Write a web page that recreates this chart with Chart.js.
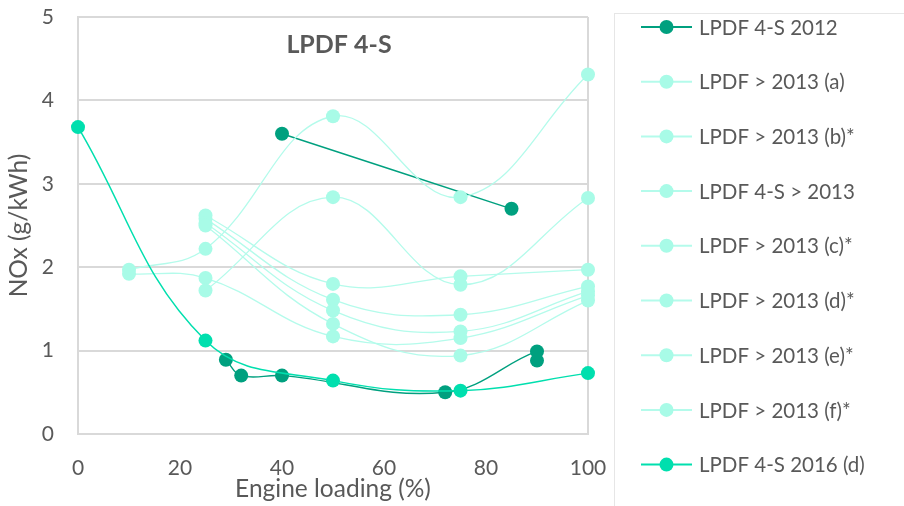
<!DOCTYPE html>
<html>
<head>
<meta charset="utf-8">
<script src="https://cdn.jsdelivr.net/npm/chart.js@4/dist/chart.umd.min.js"></script>
<style>
  html, body { margin: 0; padding: 0; background: #ffffff; }
  #wrap { width: 904px; height: 506px; position: relative; }
</style>
</head>
<body>
<div id="wrap"><canvas id="chart" width="904" height="506"></canvas></div>
<script>
// NOx emissions vs engine loading, LPDF 4-S engines
const chartTitle = 'LPDF 4-S';
const xTitle = 'Engine loading (%)';
const yTitle = 'NOx (g/kWh)';
const xTicks = [0, 20, 40, 60, 80, 100];
const yTicks = [0, 1, 2, 3, 4, 5];

const seriesNames = [
  'LPDF 4-S 2012',
  'LPDF > 2013 (a)',
  'LPDF > 2013 (b)*',
  'LPDF 4-S > 2013',
  'LPDF > 2013 (c)*',
  'LPDF > 2013 (d)*',
  'LPDF > 2013 (e)*',
  'LPDF > 2013 (f)*',
  'LPDF 4-S 2016 (d)'
];

// engine load (%) and NOx (g/kWh) per series; null marks a break in the line
const load2012 = [40, 85, null, 29, 32, 40, 72, 90, 90];
const nox2012  = [3.6, 2.7, null, 0.89, 0.70, 0.70, 0.50, 0.99, 0.88];

const loadA = [10, 25, 50, 75, 100];
const noxA  = [1.97, 2.22, 3.81, 2.84, 4.31];
const loadB = [10, 25, 50, 75, 100];
const noxB  = [1.92, 1.87, 1.17, 1.15, 1.66];
const loadC = [25, 50, 75, 100];
const noxC  = [1.72, 2.84, 1.79, 2.83];
const loadD = [25, 50, 75, 100];
const noxD  = [2.62, 1.80, 1.89, 1.97];
const loadE = [25, 50, 75, 100];
const noxE  = [2.58, 1.61, 1.43, 1.77];
const loadF = [25, 50, 75, 100];
const noxF  = [2.53, 1.48, 1.23, 1.71];
const loadG = [25, 50, 75, 100];
const noxG  = [2.50, 1.32, 0.94, 1.60];

const load2016 = [0, 25, 50, 75, 100];
const nox2016  = [3.68, 1.12, 0.64, 0.52, 0.73];

const DARK = '#00a07f';
const LIGHT_DOT = '#a8fbe7';
const LIGHT_LINE = '#b4fbeb';
const BRIGHT = '#00dfae';
const TEXT = '#595959';
const GRID = '#d9d9d9';
const FONT = 'Lato, "Open Sans", sans-serif';

function pts(xs, ys) {
  return xs.map((x, i) => ({ x: x, y: ys[i] }));
}

function makeSet(name, xs, ys, dot, line, width, order) {
  return {
    label: name,
    data: pts(xs, ys),
    showLine: true,
    borderColor: line,
    backgroundColor: dot,
    borderWidth: width,
    pointRadius: 7,
    pointHoverRadius: 7,
    pointBackgroundColor: dot,
    pointBorderColor: dot,
    pointBorderWidth: 0,
    tension: 0.4,
    spanGaps: false,
    clip: false,
    order: order
  };
}

const datasets = [
  makeSet(seriesNames[0], load2012, nox2012, DARK, DARK, 1.4, 9),
  makeSet(seriesNames[1], loadA, noxA, LIGHT_DOT, LIGHT_LINE, 1.3, 8),
  makeSet(seriesNames[2], loadB, noxB, LIGHT_DOT, LIGHT_LINE, 1.3, 7),
  makeSet(seriesNames[3], loadC, noxC, LIGHT_DOT, LIGHT_LINE, 1.3, 6),
  makeSet(seriesNames[4], loadD, noxD, LIGHT_DOT, LIGHT_LINE, 1.3, 5),
  makeSet(seriesNames[5], loadE, noxE, LIGHT_DOT, LIGHT_LINE, 1.3, 4),
  makeSet(seriesNames[6], loadF, noxF, LIGHT_DOT, LIGHT_LINE, 1.3, 3),
  makeSet(seriesNames[7], loadG, noxG, LIGHT_DOT, LIGHT_LINE, 1.3, 2),
  makeSet(seriesNames[8], load2016, nox2016, BRIGHT, BRIGHT, 1.5, 1)
];

// chart title inside the plot and a boxed legend on the right
const decorations = {
  id: 'decorations',
  afterDraw(chart) {
    const ctx = chart.ctx;
    const area = chart.chartArea;
    ctx.save();
    ctx.fillStyle = TEXT;
    ctx.font = 'bold 25px ' + FONT;
    ctx.textAlign = 'center';
    ctx.textBaseline = 'middle';
    ctx.fillText(chartTitle, (area.left + area.right) / 2 + 6, 45);

    ctx.strokeStyle = '#e6e6e6';
    ctx.lineWidth = 1;
    ctx.strokeRect(614.5, 13.5, 400, 600);

    ctx.font = '20.5px ' + FONT;
    ctx.textAlign = 'left';
    chart.data.datasets.forEach((ds, i) => {
      const y = 27 + i * 54.7;
      ctx.strokeStyle = ds.borderColor;
      ctx.lineWidth = 2;
      ctx.beginPath();
      ctx.moveTo(641, y);
      ctx.lineTo(692, y);
      ctx.stroke();
      ctx.fillStyle = ds.pointBackgroundColor;
      ctx.beginPath();
      ctx.arc(666.5, y, 7, 0, Math.PI * 2);
      ctx.fill();
      ctx.fillStyle = TEXT;
      ctx.fillText(ds.label, 699, y + 1);
    });
    ctx.restore();
  }
};

new Chart(document.getElementById('chart'), {
  type: 'scatter',
  data: { datasets: datasets },
  plugins: [decorations],
  options: {
    responsive: false,
    animation: false,
    events: [],
    layout: { padding: { top: 17, right: 316, left: 0, bottom: 0 } },
    plugins: {
      legend: { display: false },
      tooltip: { enabled: false },
      title: { display: false }
    },
    scales: {
      x: {
        type: 'linear',
        min: xTicks[0],
        max: xTicks[xTicks.length - 1],
        afterFit(scale) {
          scale.height = 72;
          scale.paddingLeft = 0;
          scale.paddingRight = 0;
        },
        afterBuildTicks(scale) { scale.ticks = xTicks.map(v => ({ value: v })); },
        grid: {
          drawTicks: false,
          lineWidth: 2,
          color: (c) => (c.tick && c.tick.value === 100) ? GRID : 'rgba(0,0,0,0)'
        },
        border: { display: true, color: GRID, width: 2 },
        ticks: {
          padding: 22,
          color: TEXT,
          font: { family: FONT, size: 21 }
        },
        title: {
          display: true,
          text: xTitle,
          color: TEXT,
          font: { family: FONT, size: 24.5 },
          padding: { top: 0, bottom: 2 }
        }
      },
      y: {
        type: 'linear',
        min: yTicks[0],
        max: yTicks[yTicks.length - 1],
        afterFit(scale) {
          scale.width = 78;
          scale.paddingTop = 0;
          scale.paddingBottom = 0;
        },
        afterBuildTicks(scale) { scale.ticks = yTicks.map(v => ({ value: v })); },
        grid: { drawTicks: false, lineWidth: 2, color: GRID },
        border: { display: true, color: GRID, width: 2 },
        ticks: {
          padding: 24,
          color: TEXT,
          font: { family: FONT, size: 21 }
        },
        title: {
          display: true,
          text: yTitle,
          color: TEXT,
          font: { family: FONT, size: 24.5 },
          padding: { top: 4, bottom: 0 }
        }
      }
    }
  }
});
</script>
</body>
</html>
